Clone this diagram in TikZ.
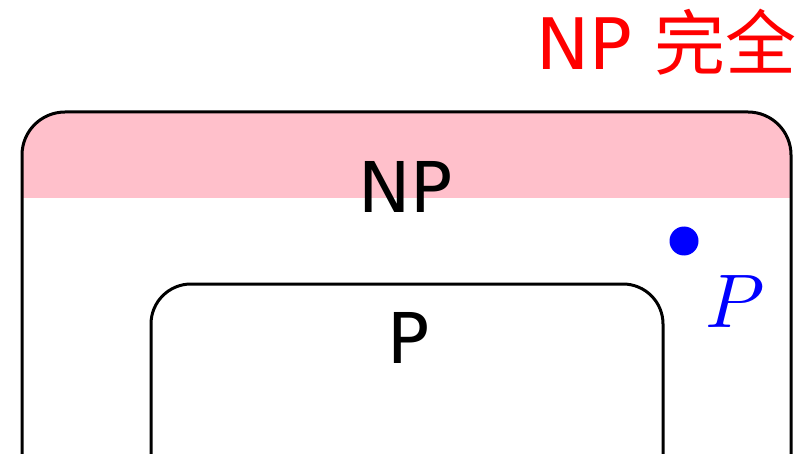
\documentclass[tikz,border=0pt]{standalone}
\usepackage{fontspec}
\usepackage{unicode-math}
\setmainfont{DejaVu Sans}
\setmathfont{Latin Modern Math}
\newfontfamily\cjk{Noto Sans CJK SC}
\definecolor{bandpink}{RGB}{255,192,203}
\begin{document}
\begin{tikzpicture}[x=1pt,y=-1pt,
  setline/.style={draw=black,line width=3pt},
  biglabel/.style={inner sep=0pt,anchor=base,font=\fontsize{70}{70}\selectfont}]
\useasboundingbox (0,0) rectangle (810,454);
\begin{scope}
  \clip (0,0) rectangle (810,454);
  % pink band along the top of the outer set
  \begin{scope}
    \clip[rounded corners=43pt] (22,112) rectangle (791,620);
    \fill[bandpink] (22,112) rectangle (791,198);
  \end{scope}
  % outer set NP
  \draw[setline,rounded corners=43pt] (22,620) -- (22,112) -- (791,112) -- (791,620);
  % inner set P
  \draw[setline,rounded corners=40pt] (151,620) -- (151,284) -- (663,284) -- (663,620);
\end{scope}
\node[biglabel] (np) at (405.5,213) {NP};
\node[biglabel] (p) at (409,363) {P};
\fill[blue] (684,241) circle (14.5pt);
\node[inner sep=0pt,anchor=base,text=blue,font=\fontsize{76}{76}\selectfont] (pvar) at (735,327) {$P$};
\node[inner sep=0pt,anchor=base east,text=red,font=\fontsize{71}{71}\selectfont] (npc) at (797,70) {NP {\cjk 完全}};
\end{tikzpicture}
\end{document}
